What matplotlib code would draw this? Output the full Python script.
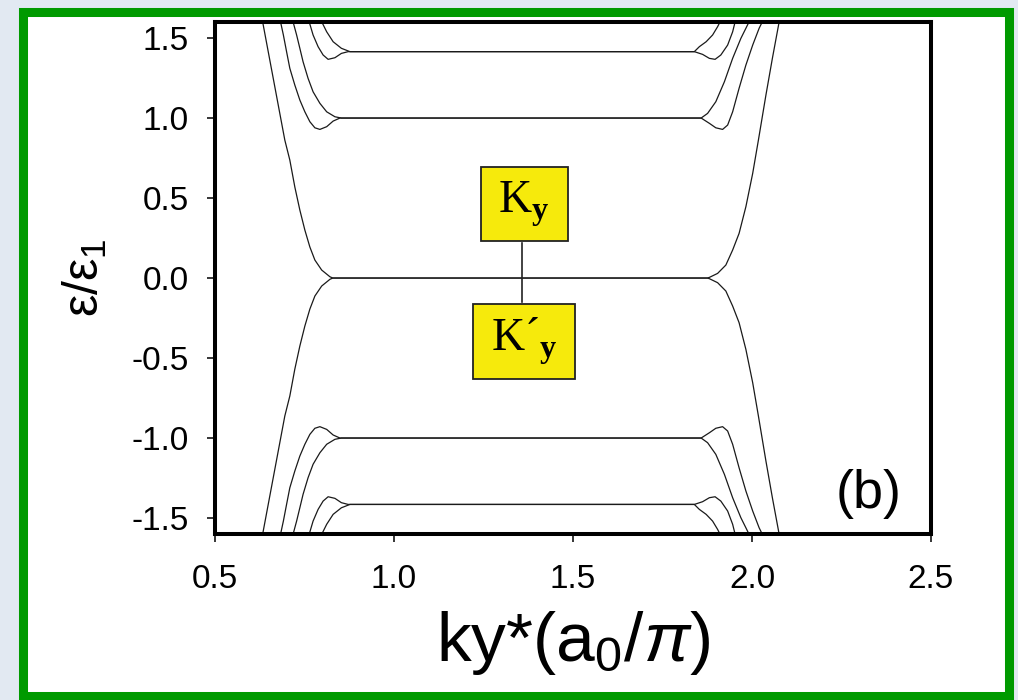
import matplotlib
matplotlib.use("Agg")
import matplotlib.pyplot as plt
from matplotlib.patches import Rectangle
from matplotlib import font_manager

# --- fonts ---
names = {f.name for f in font_manager.fontManager.ttflist}
narrow = 'Liberation Sans Narrow' if 'Liberation Sans Narrow' in names else 'Liberation Sans'
plt.rcParams['font.family'] = ['Liberation Sans', 'DejaVu Sans']
plt.rcParams['axes.unicode_minus'] = False
plt.rcParams['mathtext.fontset'] = 'custom'
plt.rcParams['mathtext.rm'] = 'Liberation Serif'
plt.rcParams['mathtext.bf'] = 'Liberation Serif:bold'
plt.rcParams['mathtext.it'] = 'Liberation Sans:italic'
plt.rcParams['mathtext.sf'] = narrow

# --- data (upper half, lower half is the mirror) ---
zero_x = [0.633, 0.695, 0.709, 0.723, 0.737, 0.751, 0.765, 0.779, 0.798, 0.821, 0.829,
          1.875, 1.881, 1.904, 1.927, 1.946, 1.964, 1.983, 2.002, 2.018, 2.039, 2.057, 2.076]
zero_y = [1.602, 0.8625, 0.7375, 0.569, 0.425, 0.300, 0.194, 0.1125, 0.050, 0.008, 0.0,
          0.0, 0.004, 0.029, 0.081, 0.175, 0.279, 0.446, 0.654, 0.8625, 1.144, 1.373, 1.602]

lvl1_outer_x = [0.683, 0.691, 0.700, 0.709, 0.723, 0.737, 0.751, 0.765, 0.779, 0.793, 0.812, 0.830, 0.849,
                1.858, 1.881, 1.899, 1.918, 1.932, 1.946, 1.964, 1.983, 2.002, 2.020, 2.029]
lvl1_outer_y = [1.602, 1.519, 1.414, 1.311, 1.206, 1.1125, 1.039, 0.977, 0.939, 0.929, 0.946, 0.981, 1.0,
                1.0, 0.967, 0.939, 0.929, 0.956, 1.039, 1.186, 1.331, 1.456, 1.561, 1.602]
lvl1_inner_x = [0.718, 0.728, 0.737, 0.746, 0.760, 0.774, 0.793, 0.812, 0.835, 0.853,
                1.858, 1.876, 1.899, 1.923, 1.946, 1.969, 1.983, 1.992]
lvl1_inner_y = [1.602, 1.519, 1.436, 1.352, 1.248, 1.164, 1.092, 1.039, 1.008, 1.0,
                1.0, 1.029, 1.102, 1.227, 1.373, 1.498, 1.561, 1.602]

lvl2_outer_x = [0.763, 0.774, 0.788, 0.802, 0.816, 0.835, 0.853, 0.872,
                1.839, 1.862, 1.881, 1.897, 1.913, 1.932, 1.946, 1.953]
lvl2_outer_y = [1.602, 1.519, 1.446, 1.394, 1.367, 1.377, 1.404, 1.415,
                1.415, 1.398, 1.373, 1.367, 1.394, 1.456, 1.539, 1.602]
lvl2_inner_x = [0.798, 0.812, 0.830, 0.853, 0.877, 1.839, 1.853, 1.872, 1.890, 1.904, 1.911]
lvl2_inner_y = [1.602, 1.539, 1.477, 1.436, 1.415, 1.415, 1.446, 1.477, 1.519, 1.571, 1.602]

bands = [(zero_x, zero_y), (lvl1_outer_x, lvl1_outer_y), (lvl1_inner_x, lvl1_inner_y),
         (lvl2_outer_x, lvl2_outer_y), (lvl2_inner_x, lvl2_inner_y)]

x_ticks = [0.5, 1.0, 1.5, 2.0, 2.5]
y_ticks = [-1.5, -1.0, -0.5, 0.0, 0.5, 1.0, 1.5]

# --- figure ---
fig = plt.figure(figsize=(10.18, 7.0), dpi=100, facecolor='#e2e9f2')
frame = Rectangle((0.0226, 0.0057), 0.9686, 0.977, transform=fig.transFigure,
                  facecolor='white', edgecolor='#009a00', lw=6.5, zorder=-1)
fig.add_artist(frame)

ax = fig.add_axes([0.2112, 0.2371, 0.7033, 0.7314])

for bx, by in bands:
    ax.plot(bx, by, color='#1a1a1a', lw=0.9)
    ax.plot(bx, [-v for v in by], color='#1a1a1a', lw=0.9)

ax.set_xlim(0.5, 2.5)
ax.set_ylim(-1.6, 1.6)
ax.set_xticks(x_ticks)
ax.set_xticklabels([f'{t:.1f}' for t in x_ticks])
ax.set_yticks(y_ticks)
ax.set_yticklabels([f'{t:.1f}' for t in y_ticks])
ax.tick_params(direction='out', length=5.8, width=1.1, labelsize=24)
ax.tick_params(axis='y', pad=13)
ax.tick_params(axis='x', pad=16)
for s in ax.spines.values():
    s.set_linewidth(2.9)

ax.set_xlabel(r'ky*(a$_\mathsf{0}$/$\pi$)', family=narrow, fontsize=50, labelpad=10)
ax.set_ylabel(r'ε/ε$_\mathsf{1}$', fontsize=36, labelpad=16)

ax.text(2.327, -1.35, '(b)', fontsize=39, ha='center', va='center')

# yellow K boxes
ax.add_patch(Rectangle((1.242, 0.231), 0.243, 0.463, facecolor='#f6ea0c',
                       edgecolor='#222222', lw=1.3, zorder=3))
ax.add_patch(Rectangle((1.220, -0.631), 0.287, 0.468, facecolor='#f6ea0c',
                       edgecolor='#222222', lw=1.3, zorder=3))
ax.plot([1.358, 1.358], [0.219, -0.15], color='#222222', lw=1.2, zorder=3)
ax.text(1.363, 0.462, r'K$_\mathbf{y}$', family='Liberation Serif', fontsize=33,
        ha='center', va='center', zorder=4)
ax.text(1.363, -0.397, r'K´$_\mathbf{y}$', family='Liberation Serif', fontsize=33,
        ha='center', va='center', zorder=4)

fig.savefig('out.png', dpi=100, facecolor=fig.get_facecolor())
